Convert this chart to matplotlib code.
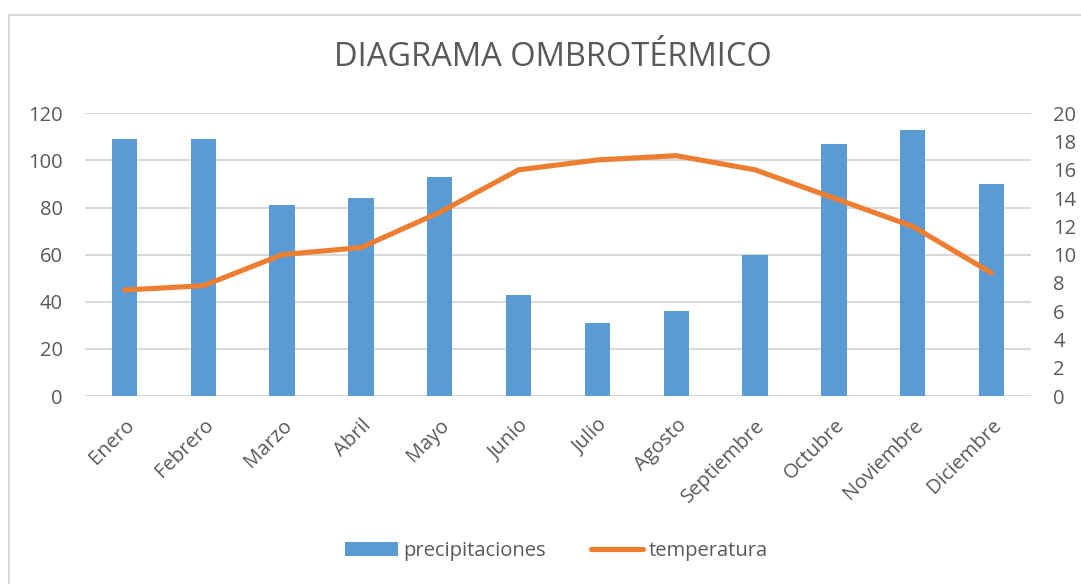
import matplotlib.pyplot as plt
from matplotlib.lines import Line2D
from matplotlib.patches import Patch
import numpy as np

meses = ["Enero", "Febrero", "Marzo", "Abril", "Mayo", "Junio", "Julio",
         "Agosto", "Septiembre", "Octubre", "Noviembre", "Diciembre"]
precipitaciones = [109, 109, 81, 84, 93, 43, 31, 36, 60, 107, 113, 90]
temperatura = [7.5, 7.8, 10.0, 10.5, 13.0, 16.0, 16.7, 17.0, 16.0, 14.0, 12.0, 8.7]

BLUE = "#5B9BD5"
ORANGE = "#ED7D31"
GREY = "#595959"
GRID = "#D9D9D9"

plt.rcParams["font.family"] = ["Open Sans", "DejaVu Sans"]

if __name__ == "__main__":
    fig = plt.figure(figsize=(10.81, 5.84), dpi=100)
    ax = fig.add_axes([85 / 1081, 1 - 396 / 584, (1031 - 85) / 1081, (396 - 113.3) / 584])
    ax2 = ax.twinx()

    x = np.arange(len(meses))
    ax.bar(x, precipitaciones, width=0.32, color=BLUE, zorder=2)
    ax2.plot(x, temperatura, color=ORANGE, lw=3.7, solid_capstyle="round",
             solid_joinstyle="round", zorder=3)

    ax.set_xlim(-0.5, len(meses) - 0.5)
    ax.set_ylim(0, 120)
    ax.set_yticks(np.arange(0, 121, 20))
    ax2.set_ylim(0, 20)
    ax2.set_yticks(np.arange(0, 21, 2))

    ax.grid(axis="y", color=GRID, lw=1.5, zorder=0)
    ax.set_axisbelow(True)
    for a in (ax, ax2):
        for s in a.spines.values():
            s.set_visible(False)
        a.tick_params(length=0, colors=GREY, labelsize=14.5)
    ax.tick_params(axis="y", pad=16)
    ax2.tick_params(axis="y", pad=16)

    ax.set_xticks(x)
    ax.set_xticklabels(meses, rotation=45, ha="right", va="top",
                       rotation_mode="anchor", fontsize=14.5, color=GREY)
    ax.tick_params(axis="x", pad=14)

    fig.text(0.5115, 1 - 58 / 584, "DIAGRAMA OMBROTÉRMICO", ha="center", va="center",
             fontsize=23.5, color=GREY)

    handles = [Patch(facecolor=BLUE, label="precipitaciones"),
               Line2D([0], [0], color=ORANGE, lw=3.7, solid_capstyle="round",
                      label="temperatura")]
    fig.legend(handles=handles, loc="center", bbox_to_anchor=(0.515, 1 - 551 / 584),
               ncol=2, frameon=False, fontsize=14.5, labelcolor=GREY,
               handlelength=2.6, handleheight=0.7, handletextpad=0.3, columnspacing=2.2)

    # chart area border
    fig.add_artist(Line2D([9 / 1081, 9 / 1081], [0, 1 - 15 / 584], color=GRID, lw=1.5))
    fig.add_artist(Line2D([9 / 1081, 1], [1 - 15 / 584, 1 - 15 / 584], color=GRID, lw=1.5))

    fig.savefig("out.png", dpi=100)
